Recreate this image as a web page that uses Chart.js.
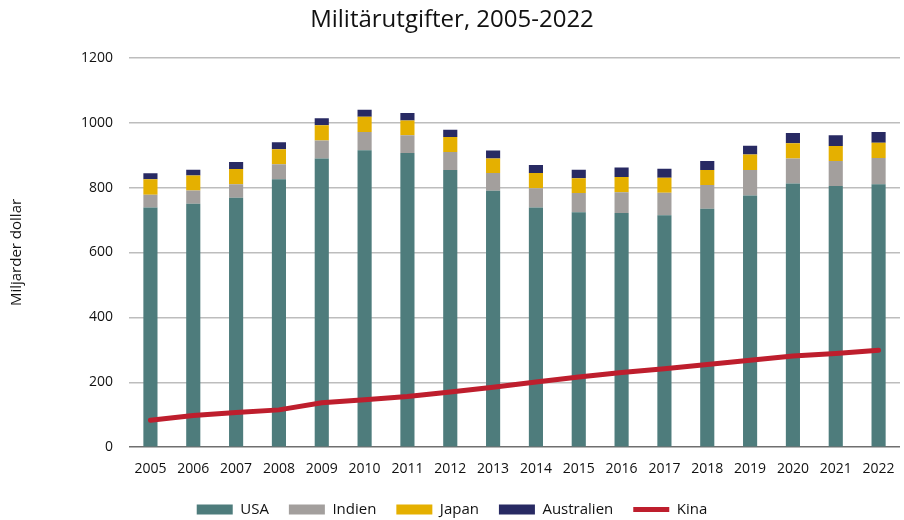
<!DOCTYPE html>
<html>
<head>
<meta charset="utf-8">
<script src="https://cdn.jsdelivr.net/npm/chart.js@4"></script>
<style>
  html, body { margin: 0; padding: 0; background: #fff; }
  #wrap { width: 904px; height: 520px; }
</style>
</head>
<body>
<div id="wrap"><canvas id="milChart" width="904" height="520"></canvas></div>
<script>
// data – miljarder dollar
const years = ['2005','2006','2007','2008','2009','2010','2011','2012','2013','2014','2015','2016','2017','2018','2019','2020','2021','2022'];
const usa        = [739, 750, 769, 826, 890, 915, 907, 854, 790, 739, 724, 722, 715, 735, 776, 813, 805, 810];
const indien     = [39, 41, 41, 46, 55, 56, 54, 56, 55, 59, 59, 64, 69, 73, 78, 77, 77, 81];
const japan      = [48, 46, 47, 46, 47, 47, 46, 46, 45, 47, 46, 47, 46, 46, 48, 47, 46, 47];
const australien = [18, 18, 22, 22, 22, 22, 23, 22, 24, 25, 26, 29, 28, 28, 27, 31, 33, 33];
const kina       = [83, 98, 107, 115, 137, 146, 156, 170, 185, 201, 216, 230, 242, 255, 268, 281, 289, 299];
const yTicks     = [0, 200, 400, 600, 800, 1000, 1200];

const fontFam = "'Open Sans', 'Noto Sans', sans-serif";

function barSet(label, data, color) {
    return {
        type: 'bar',
        label: label,
        data: data,
        backgroundColor: color,
        borderColor: color,
        borderWidth: 0,
        stack: 'mil',
        order: 1,
        pointStyle: 'rect',
        barPercentage: 0.33,
        categoryPercentage: 1.0
    };
}

const ctx = document.getElementById('milChart').getContext('2d');
new Chart(ctx, {
    data: {
        labels: years,
        datasets: [
            barSet('USA', usa, '#4e7c7c'),
            barSet('Indien', indien, '#a39f9d'),
            barSet('Japan', japan, '#e5b000'),
            barSet('Australien', australien, '#282a63'),
            {
                type: 'line',
                label: 'Kina',
                data: kina,
                borderColor: '#be1e2d',
                backgroundColor: '#be1e2d',
                borderWidth: 5,
                borderCapStyle: 'round',
                pointRadius: 0,
                pointStyle: 'line',
                tension: 0,
                stack: 'kina',
                order: 0
            }
        ]
    },
    options: {
        responsive: false,
        animation: false,
        layout: { padding: { left: 4, right: 4, top: 0, bottom: -7 } },
        scales: {
            x: {
                stacked: true,
                grid: { display: false },
                border: { display: false },
                ticks: { color: '#111', font: { family: fontFam, size: 14 }, padding: 5 }
            },
            y: {
                stacked: true,
                min: 0,
                max: 1200,
                afterBuildTicks: (axis) => { axis.ticks = yTicks.map(v => ({ value: v })); },
                grid: {
                    color: (c) => c.tick && c.tick.value === 0 ? '#6f6f6f' : '#bdbdbd',
                    lineWidth: 1.5,
                    drawTicks: false
                },
                border: { display: false },
                ticks: {
                    color: '#111',
                    font: { family: fontFam, size: 14 },
                    padding: 16,
                    callback: (v) => String(v)
                },
                title: {
                    display: true,
                    text: 'Miljarder dollar',
                    color: '#111',
                    font: { family: fontFam, size: 15 },
                    padding: { bottom: 39 }
                }
            }
        },
        plugins: {
            title: {
                display: true,
                text: 'Militärutgifter, 2005-2022',
                color: '#111',
                font: { family: fontFam, size: 24, weight: 'normal' },
                padding: { top: 6, bottom: 23 }
            },
            legend: {
                position: 'bottom',
                labels: {
                    usePointStyle: true,
                    pointStyleWidth: 36,
                    boxHeight: 10,
                    padding: 20,
                    color: '#111',
                    font: { family: fontFam, size: 15 },
                    sort: (a, b) => a.datasetIndex - b.datasetIndex
                }
            },
            tooltip: { enabled: false }
        }
    }
});
</script>
</body>
</html>
